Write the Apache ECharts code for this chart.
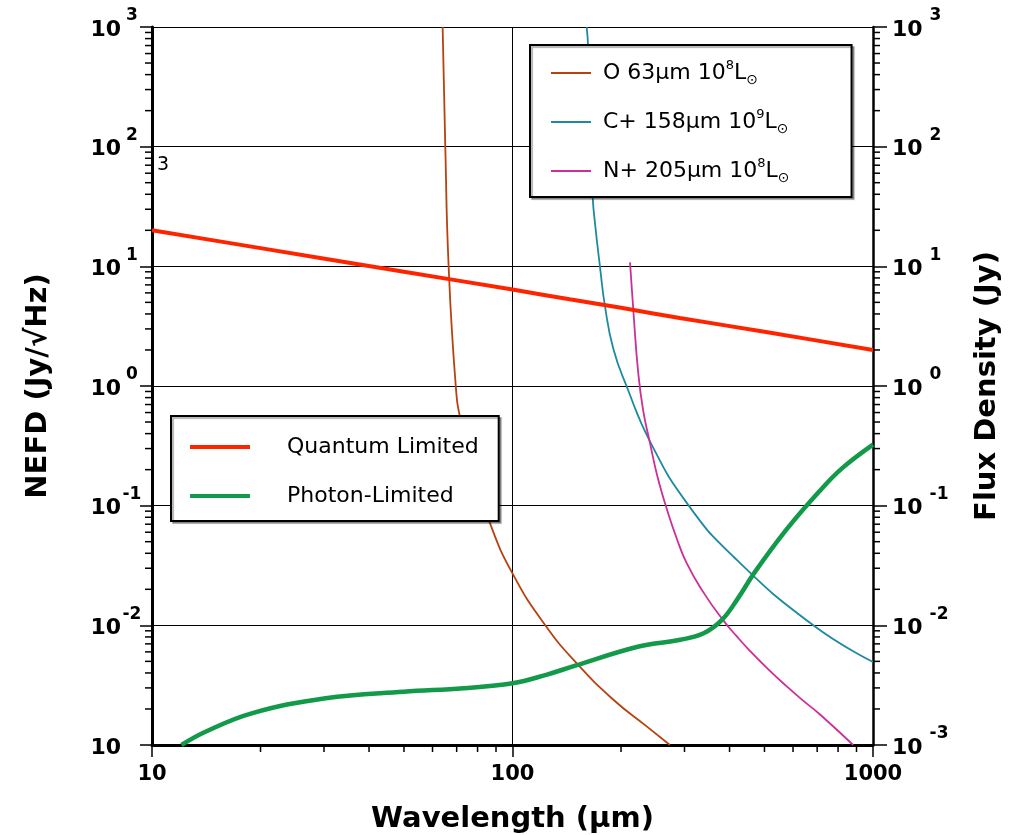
<!DOCTYPE html>
<html>
<head>
<meta charset="utf-8">
<script src="https://cdn.jsdelivr.net/npm/echarts@6/dist/echarts.min.js"></script>
<style>
  html, body { margin: 0; padding: 0; background: #fff; }
  #chart { width: 1013px; height: 835px; }
</style>
</head>
<body>
<div id="chart"></div>
<script>
// Tick labels
const xTickLabels = ['10', '100', '1000'];
const leftExponents = ['', '-2', '-1', '0', '1', '2', '3'];   // 10^-3 .. 10^3
const rightExponents = ['-3', '-2', '-1', '0', '1', '2', '3'];

// NEFD curves, [wavelength µm, Jy/√Hz]
const quantumLimited = [[10, 20], [20, 14.2], [50, 9.0], [100, 6.4], [144, 5.3], [200, 4.5], [291, 3.7], [500, 2.84], [1000, 2.0]];
const photonLimited = [[12.07, 0.001], [14.07, 0.00129], [18.9, 0.00184], [30.3, 0.00246], [49.9, 0.00279], [73.2, 0.00298],
  [100, 0.00328], [124, 0.00386], [148.5, 0.00458], [224, 0.00665], [292, 0.00757], [339, 0.00859], [381, 0.0111],
  [422, 0.0168], [468, 0.0273], [575, 0.063], [707, 0.13], [820, 0.205], [1000, 0.324]];

// Line flux density curves, [wavelength µm, Jy]
const o63 = [[64.0, 1000], [65.1, 100], [66.5, 10], [69.6, 1], [71.8, 0.52], [78, 0.2], [86.6, 0.0714], [100.5, 0.0264],
  [123, 0.0101], [150.6, 0.00483], [190.5, 0.00239], [235.6, 0.00143], [273.3, 0.001]];
const cPlus158 = [[160.6, 1000], [162, 700], [164.5, 120], [166.9, 37.8], [169.3, 23.2], [174.8, 10], [180.6, 4.6], [190.4, 2.05],
  [207.4, 0.99], [240.6, 0.345], [304, 0.106], [409.8, 0.0376], [683, 0.01], [1000, 0.00494]];
const nPlus205 = [[211.8, 10.8], [216.4, 4.25], [223.4, 1.26], [230.5, 0.62], [240.6, 0.335], [253, 0.17], [267.7, 0.0948],
  [285, 0.054], [304.2, 0.0331], [340, 0.0185], [384.4, 0.011], [418, 0.00815], [454.8, 0.00616], [510, 0.00435],
  [575.5, 0.0031], [640, 0.00235], [713, 0.0018], [881, 0.001]];

// Series names and legend text
const lineNames = ['O 63µm', 'C+ 158µm', 'N+ 205µm'];
const lineLumExponents = ['8', '9', '8'];
const lineColors = ['#b8420f', '#1e8aa2', '#cc2f98'];
const noiseNames = ['Quantum Limited', 'Photon-Limited'];
const noiseColors = ['#ff2400', '#12994a'];

const FONT = 'DejaVu Sans';

// Minor tick positions (2..9 within each decade)
const minorMultiples = [2, 3, 4, 5, 6, 7, 8, 9];
const minorTicks = [];
for (let d = -3; d < 3; d++) {
  for (const m of minorMultiples) {
    const v = m * Math.pow(10, d);
    minorTicks.push([10, v, 0]);
    minorTicks.push([1000, v, 1]);
  }
}
for (let d = 1; d < 3; d++) {
  for (const m of minorMultiples) {
    minorTicks.push([m * Math.pow(10, d), 0.001, 2]);
  }
}

function expIndex(value) {
  return Math.round(Math.log10(value)) + 3;
}

const chart = echarts.init(document.getElementById('chart'), null, { renderer: 'canvas' });

const baseToken = { fontFamily: FONT, fontSize: 22, fontWeight: 'bold', color: '#000', padding: [6, 0, 0, 0] };

const option = {
  animation: false,
  backgroundColor: '#fff',
  grid: { left: 152, right: 140, top: 27, bottom: 90, containLabel: false, outerBoundsMode: 'none' },
  xAxis: {
    type: 'log',
    logBase: 10,
    min: 10,
    max: 1000,
    splitNumber: 2,
    name: 'Wavelength (µm)',
    nameLocation: 'middle',
    nameGap: 60,
    nameTextStyle: { fontFamily: FONT, fontSize: 29, fontWeight: 'bold', color: '#000' },
    axisLine: { show: true, lineStyle: { color: '#000', width: 3 } },
    axisTick: { show: true, inside: false, length: 12, lineStyle: { color: '#000', width: 1.5 } },
    minorTick: { show: false },
    splitLine: { show: true, lineStyle: { color: '#000', width: 1 } },
    axisLabel: {
      margin: 19,
      fontFamily: FONT, fontSize: 21, fontWeight: 'bold', color: '#000',
      formatter: v => xTickLabels[Math.round(Math.log10(v)) - 1]
    }
  },
  yAxis: [{
    type: 'log',
    logBase: 10,
    min: 0.001,
    max: 1000,
    splitNumber: 6,
    position: 'left',
    name: 'NEFD (Jy/√Hz)',
    nameLocation: 'middle',
    nameRotate: 90,
    nameGap: 99,
    nameTextStyle: { fontFamily: FONT, fontSize: 29, fontWeight: 'bold', color: '#000' },
    axisLine: { show: true, lineStyle: { color: '#000', width: 3 } },
    axisTick: { show: true, inside: false, length: 12, lineStyle: { color: '#000', width: 1.5 } },
    splitLine: { show: true, lineStyle: { color: '#000', width: 1 } },
    axisLabel: {
      margin: 9,
      formatter: v => `{b|10}{e|${leftExponents[expIndex(v)] || '\u00a0'}}`,
      rich: {
        b: baseToken,
        e: { fontFamily: FONT, fontSize: 17, fontWeight: 'bold', color: '#000', padding: [0, 0, 22, 0], width: 22, align: 'center' }
      }
    }
  }, {
    type: 'log',
    logBase: 10,
    min: 0.001,
    max: 1000,
    splitNumber: 6,
    position: 'right',
    name: 'Flux Density (Jy)',
    nameLocation: 'middle',
    nameRotate: 90,
    nameGap: 100,
    nameTextStyle: { fontFamily: FONT, fontSize: 29, fontWeight: 'bold', color: '#000' },
    axisLine: { show: true, lineStyle: { color: '#000', width: 2.5 } },
    axisTick: { show: true, inside: false, length: 14, lineStyle: { color: '#000', width: 1.5 } },
    splitLine: { show: false },
    axisLabel: {
      margin: 19,
      formatter: v => `{b|10}{e|${rightExponents[expIndex(v)]}}`,
      rich: {
        b: baseToken,
        e: { fontFamily: FONT, fontSize: 17, fontWeight: 'bold', color: '#000', padding: [0, 0, 22, 7] }
      }
    }
  }],
  legend: [{
    data: lineNames,
    orient: 'vertical',
    left: 530,
    top: 45,
    icon: 'rect',
    itemWidth: 40,
    itemHeight: 2,
    itemGap: 21,
    padding: [14, 62, 12, 21],
    borderColor: '#000',
    borderWidth: 2,
    borderRadius: 0,
    backgroundColor: '#fff',
    shadowColor: 'rgba(0,0,0,0.3)',
    shadowOffsetX: 2,
    shadowOffsetY: 2,
    shadowBlur: 1,
    selectedMode: false,
    formatter: name => {
      const i = lineNames.indexOf(name);
      return `{t|${name} 10}{sup|${lineLumExponents[i]}}{t|L}{sun|⊙}`;
    },
    textStyle: {
      padding: [0, 0, 0, 7],
      rich: {
        t: { fontFamily: FONT, fontSize: 22, color: '#000', lineHeight: 28, verticalAlign: 'middle' },
        sup: { fontFamily: FONT, fontSize: 13, color: '#000', lineHeight: 13, verticalAlign: 'top' },
        sun: { fontFamily: FONT, fontSize: 14, color: '#000', lineHeight: 14, verticalAlign: 'bottom' }
      }
    }
  }, {
    data: noiseNames,
    orient: 'vertical',
    left: 171,
    top: 416,
    icon: 'rect',
    itemWidth: 60,
    itemHeight: 4,
    itemGap: 25,
    padding: [19, 20, 13, 19],
    borderColor: '#000',
    borderWidth: 2,
    borderRadius: 0,
    backgroundColor: '#fff',
    shadowColor: 'rgba(0,0,0,0.3)',
    shadowOffsetX: 2,
    shadowOffsetY: 2,
    shadowBlur: 1,
    selectedMode: false,
    textStyle: {
      fontFamily: FONT, fontSize: 22, color: '#000', lineHeight: 24,
      padding: [0, 0, 0, 32]
    }
  }],
  graphic: [{
    type: 'text',
    left: 157,
    top: 156,
    style: { text: '3', fontFamily: FONT, fontSize: 19, fill: '#000' }
  }],
  series: [
    {
      name: lineNames[0], type: 'line', yAxisIndex: 1, data: o63, symbol: 'none', smooth: 0.5,
      lineStyle: { color: lineColors[0], width: 1.8 }, itemStyle: { color: lineColors[0] }, z: 2
    },
    {
      name: lineNames[1], type: 'line', yAxisIndex: 1, data: cPlus158, symbol: 'none', smooth: 0.5,
      lineStyle: { color: lineColors[1], width: 1.8 }, itemStyle: { color: lineColors[1] }, z: 2
    },
    {
      name: lineNames[2], type: 'line', yAxisIndex: 1, data: nPlus205, symbol: 'none', smooth: 0.5,
      lineStyle: { color: lineColors[2], width: 1.8 }, itemStyle: { color: lineColors[2] }, z: 2
    },
    {
      name: noiseNames[0], type: 'line', yAxisIndex: 0, data: quantumLimited, symbol: 'none', smooth: 0.3,
      lineStyle: { color: noiseColors[0], width: 4 }, itemStyle: { color: noiseColors[0] }, z: 3
    },
    {
      name: noiseNames[1], type: 'line', yAxisIndex: 0, data: photonLimited, symbol: 'none', smooth: 0.4,
      lineStyle: { color: noiseColors[1], width: 4.5 }, itemStyle: { color: noiseColors[1] }, z: 3
    },
    {
      // Minor ticks on the log axes
      type: 'custom',
      xAxisIndex: 0,
      yAxisIndex: 0,
      data: minorTicks,
      silent: true,
      clip: false,
      z: 5,
      renderItem: (params, api) => {
        const side = api.value(2);
        const p = api.coord([api.value(0), api.value(1)]);
        let shape;
        if (side === 0) shape = { x1: p[0] - 7, y1: p[1], x2: p[0], y2: p[1] };
        else if (side === 1) shape = { x1: p[0], y1: p[1], x2: p[0] + 7, y2: p[1] };
        else shape = { x1: p[0], y1: p[1], x2: p[0], y2: p[1] + 7 };
        return { type: 'line', shape, style: { stroke: '#000', lineWidth: 1.5 } };
      }
    }
  ]
};

chart.setOption(option);
</script>
</body>
</html>
